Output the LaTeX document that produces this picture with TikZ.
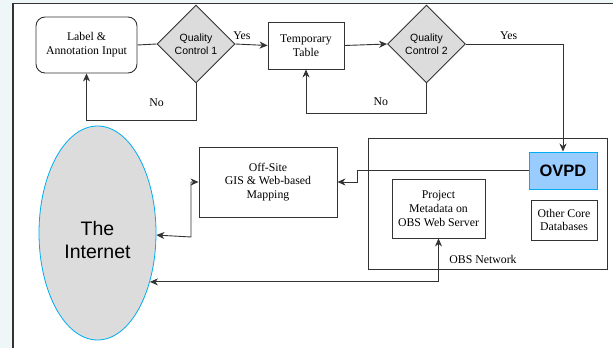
\documentclass[tikz,border=0pt]{standalone}
\usepackage{fontspec}
\setmainfont{Liberation Serif}
\newfontfamily\arialfont{Liberation Sans}
\usetikzlibrary{shapes.geometric,arrows.meta}
\definecolor{strip}{HTML}{EEF6F8}
\definecolor{ink}{HTML}{333333}
\definecolor{lightgrey}{HTML}{DCDCDC}
\definecolor{ovpdblue}{HTML}{99CCFF}

\begin{document}
\begin{tikzpicture}[x=1pt, y=-1pt, >={Stealth[length=8pt,width=7pt,inset=2.5pt]},
                    every node/.style={font=\fontsize{11.8}{13.8}\selectfont, text=black},
                    proc box/.style={rectangle,draw=ink,line width=0.9pt,align=center,inner sep=0pt},
                    check node/.style={diamond,draw=ink,line width=0.9pt,fill=lightgrey,align=center,
                                       inner sep=0pt,minimum width=78pt,minimum height=78pt,
                                       font=\arialfont\fontsize{10.5}{13}\selectfont},
                    link/.style={draw=ink,line width=0.9pt}]

  \useasboundingbox (0,0) rectangle (613,348);
  \fill[strip] (0,0) rectangle (613,348);
  \fill[white] (13,3) rectangle (613,348);
  \draw[ink,line width=2.2pt] (13,3) -- (13,348);
  \draw[ink,line width=1.4pt] (12,3.5) -- (613,3.5);

  \node[proc box,rounded corners=9pt,minimum width=101pt,minimum height=56pt] (lai) at (86.5,45) {Label \&\\Annotation Input};
  \node[check node] (qc1) at (196,44) {Quality\\Control 1};
  \node[proc box,minimum width=76pt,minimum height=47pt] (tt) at (306,45.5) {Temporary\\Table};
  \node[check node] (qc2) at (426.5,44) {Quality\\Control 2};

  \node[proc box,minimum width=239pt,minimum height=131pt] (obsnet) at (487.5,203.5) {};
  \node (obslabel) at (483,259) {OBS Network};
  \node[rectangle,draw=cyan,line width=0.9pt,fill=ovpdblue,minimum width=68pt,minimum height=37pt,
        font=\arialfont\bfseries\fontsize{16.5}{18}\selectfont] (ovpd) at (563,170.5) {OVPD};
  \node[proc box,minimum width=93pt,minimum height=59pt] (pm) at (438.5,208.5) {Project\\Metadata on\\OBS Web Server};
  \node[proc box,minimum width=66pt,minimum height=40pt] (ocd) at (564,220) {Other Core\\Databases};
  \node[proc box,minimum width=138pt,minimum height=70pt] (offsite) at (268,182) {Off-Site\\GIS \& Web-based\\Mapping};

  \node[ellipse,draw=cyan,line width=0.8pt,fill=lightgrey,minimum width=117pt,minimum height=214pt] (inet) at (97.5,233) {};
  \node[align=center,font=\arialfont\fontsize{19.5}{23}\selectfont] (inettext) at (97.5,240) {The\\Internet};

  % flow along the top
  \draw[link] (lai.east) -- (qc1.west);
  \draw[link,->] (qc1.east) -- (tt.west) node[pos=0.2,above=1pt] {Yes};
  \draw[link,->] (qc1.south) -- (196,120) -| (lai.south) node[pos=0.18,above=10pt] {No};
  \draw[link,->] (tt.east) -- (qc2.west);
  \draw[link,->] (qc2.east) -| (ovpd.north) node[pos=0.22,above=1pt] {Yes};
  \draw[link,->] (qc2.south) -- (426.5,113) -| (tt.south) node[pos=0.19,above=4pt] {No};

  % links to the internet
  \draw[link,->] (ovpd.west) -- (357,170.5) |- (offsite.east);
  \draw[link,<->] (inet.-2) -- (191,237) |- (offsite.west);
  \draw[link,<->] (pm.south) |- (inet.-43);
\end{tikzpicture}
\end{document}
